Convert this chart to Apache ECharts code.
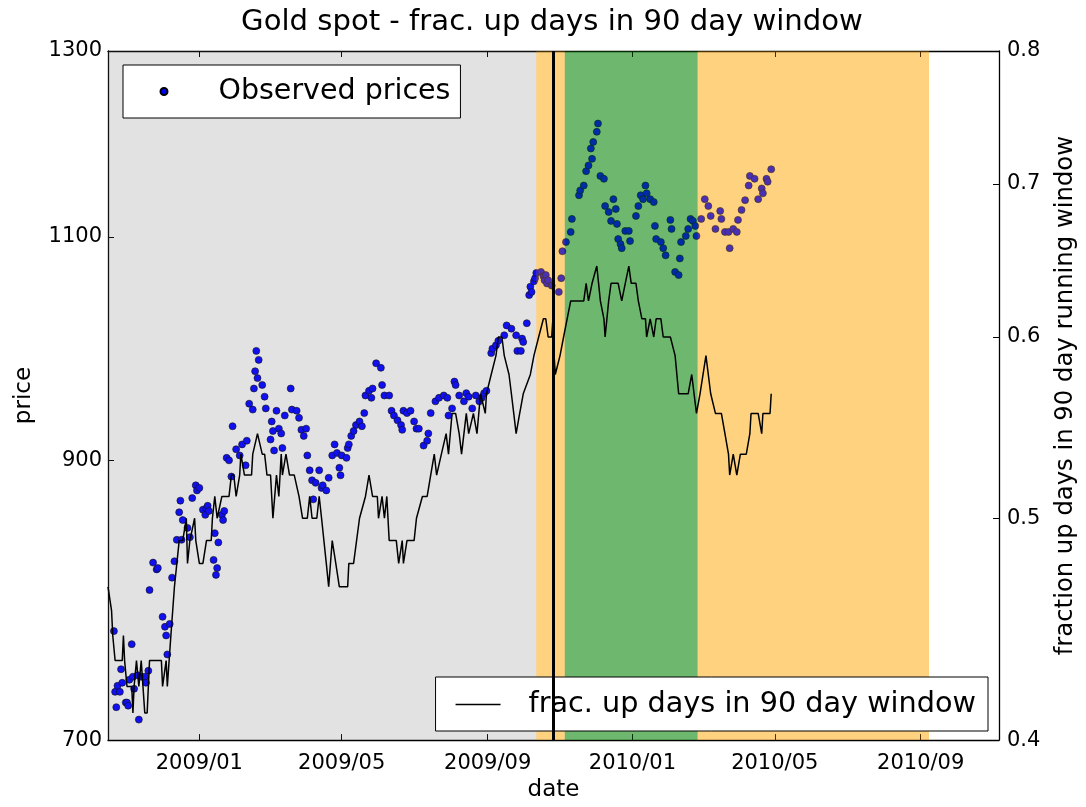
<!DOCTYPE html>
<html><head><meta charset="utf-8">
<script src="https://cdn.jsdelivr.net/npm/echarts@6/dist/echarts.min.js"></script>
<style>html,body{margin:0;padding:0;background:#fff}#c{width:1086px;height:807px}</style>
</head><body><div id="c"></div>
<script>
const priceDates = ['2008-10-21','2008-10-22','2008-10-23','2008-10-24','2008-10-26','2008-10-27','2008-10-28','2008-10-31','2008-11-01','2008-11-02','2008-11-03','2008-11-05','2008-11-06','2008-11-07','2008-11-10','2008-11-11','2008-11-13','2008-11-16','2008-11-17','2008-11-19','2008-11-20','2008-11-23','2008-11-26','2008-11-27','2008-12-01','2008-12-03','2008-12-04','2008-12-05','2008-12-07','2008-12-09','2008-12-11','2008-12-13','2008-12-15','2008-12-16','2008-12-17','2008-12-18','2008-12-22','2008-12-24','2008-12-26','2008-12-29','2008-12-30','2009-01-01','2009-01-04','2009-01-06','2009-01-07','2009-01-08','2009-01-09','2009-01-13','2009-01-14','2009-01-15','2009-01-16','2009-01-17','2009-01-20','2009-01-21','2009-01-22','2009-01-24','2009-01-26','2009-01-28','2009-01-29','2009-02-01','2009-02-04','2009-02-06','2009-02-09','2009-02-10','2009-02-12','2009-02-15','2009-02-16','2009-02-17','2009-02-18','2009-02-19','2009-02-20','2009-02-23','2009-02-25','2009-02-26','2009-03-02','2009-03-03','2009-03-04','2009-03-05','2009-03-07','2009-03-09','2009-03-11','2009-03-12','2009-03-14','2009-03-19','2009-03-20','2009-03-24','2009-03-26','2009-03-28','2009-03-30','2009-04-01','2009-04-02','2009-04-04','2009-04-06','2009-04-07','2009-04-09','2009-04-12','2009-04-14','2009-04-15','2009-04-18','2009-04-20','2009-04-23','2009-04-25','2009-04-27','2009-04-29','2009-04-30','2009-05-01','2009-05-05','2009-05-06','2009-05-07','2009-05-09','2009-05-11','2009-05-13','2009-05-16','2009-05-18','2009-05-20','2009-05-21','2009-05-24','2009-05-26','2009-05-27','2009-05-30','2009-06-03','2009-06-04','2009-06-06','2009-06-10','2009-06-12','2009-06-14','2009-06-17','2009-06-20','2009-06-21','2009-06-22','2009-06-25','2009-06-28','2009-07-01','2009-07-03','2009-07-05','2009-07-09','2009-07-12','2009-07-13','2009-07-15','2009-07-19','2009-07-22','2009-07-26','2009-07-29','2009-07-30','2009-08-02','2009-08-04','2009-08-05','2009-08-08','2009-08-12','2009-08-14','2009-08-16','2009-08-19','2009-08-22','2009-08-25','2009-08-27','2009-08-29','2009-08-31','2009-09-04','2009-09-05','2009-09-08','2009-09-10','2009-09-15','2009-09-17','2009-09-21','2009-09-25','2009-09-26','2009-09-29','2009-09-30','2009-10-01','2009-10-04','2009-10-06','2009-10-07','2009-10-08','2009-10-10','2009-10-11','2009-10-12','2009-10-16','2009-10-18','2009-10-19','2009-10-20','2009-10-21','2009-10-22','2009-10-25','2009-10-31','2009-11-02','2009-11-03','2009-11-06','2009-11-10','2009-11-11','2009-11-17','2009-11-18','2009-11-21','2009-11-23','2009-11-25','2009-11-27','2009-11-28','2009-11-29','2009-12-02','2009-12-03','2009-12-05','2009-12-08','2009-12-09','2009-12-12','2009-12-14','2009-12-16','2009-12-18','2009-12-19','2009-12-20','2009-12-22','2009-12-23','2009-12-26','2009-12-29','2009-12-30','2010-01-04','2010-01-06','2010-01-08','2010-01-10','2010-01-12','2010-01-13','2010-01-16','2010-01-19','2010-01-20','2010-01-21','2010-01-25','2010-01-27','2010-01-29','2010-02-02','2010-02-03','2010-02-06','2010-02-09','2010-02-10','2010-02-11','2010-02-15','2010-02-17','2010-02-19','2010-02-21','2010-02-23','2010-02-24','2010-02-28','2010-03-03','2010-03-06','2010-03-08','2010-03-12','2010-03-16','2010-03-17','2010-03-20','2010-03-23','2010-03-24','2010-03-27','2010-03-30','2010-03-31','2010-04-03','2010-04-06','2010-04-09','2010-04-10','2010-04-14','2010-04-17','2010-04-20','2010-04-21','2010-04-24','2010-04-25','2010-04-28'];
const priceValues = [772,731,721,735,731,746,737,724,724,722,739,763,741,733,742,713,741,741,737,745,801,821,816,817,782,775,769,756,777,810,822,838,859,868,838,853,847,840,870,880,876,878,861,857,862,864,860,823,843,812,817,836,857,853,860,902,900,887,928,909,904,913,896,916,947,942,960,975,993,969,985,963,953,943,917,932,924,908,941,926,922,910,937,960,942,941,935,925,920,926,904,892,884,869,882,892,878,880,876,886,904,913,906,894,888,904,902,910,913,920,924,929,932,928,939,954,958,952,960,982,978,963,954,954,941,937,933,929,925,941,939,941,932,926,926,912,916,922,939,949,952,954,952,937,943,966,963,954,949,956,953,943,954,949,952,956,958,991,995,998,1002,1007,1016,1013,1007,993,993,1004,1001,1018,1044,1052,1047,1057,1060,1065,1066,1062,1058,1063,1055,1058,1053,1047,1060,1086,1095,1105,1118,1142,1147,1152,1167,1173,1191,1180,1198,1209,1218,1162,1159,1131,1125,1116,1138,1128,1113,1098,1093,1089,1106,1106,1096,1121,1131,1142,1138,1152,1144,1138,1135,1111,1098,1095,1089,1082,1117,1108,1066,1063,1079,1095,1101,1108,1118,1116,1111,1101,1118,1138,1131,1121,1108,1126,1118,1105,1105,1089,1108,1105,1117,1127,1137,1152,1162,1159,1138,1149,1144,1159,1156,1169];

const fracDates = ['2008-10-16','2008-10-19','2008-10-20','2008-10-22','2008-10-28','2008-10-29','2008-10-30','2008-11-01','2008-11-05','2008-11-06','2008-11-07','2008-11-09','2008-11-11','2008-11-13','2008-11-16','2008-11-18','2008-11-20','2008-11-22','2008-11-30','2008-12-01','2008-12-04','2008-12-05','2008-12-08','2008-12-11','2008-12-15','2008-12-18','2008-12-21','2008-12-22','2008-12-24','2008-12-28','2008-12-29','2009-01-01','2009-01-04','2009-01-07','2009-01-11','2009-01-12','2009-01-14','2009-01-16','2009-01-20','2009-01-26','2009-01-28','2009-01-30','2009-02-01','2009-02-04','2009-02-05','2009-02-08','2009-02-14','2009-02-15','2009-02-19','2009-02-23','2009-02-25','2009-02-27','2009-03-02','2009-03-04','2009-03-07','2009-03-09','2009-03-11','2009-03-12','2009-03-15','2009-03-18','2009-03-22','2009-03-26','2009-03-29','2009-04-02','2009-04-04','2009-04-06','2009-04-10','2009-04-12','2009-04-14','2009-04-18','2009-04-20','2009-04-23','2009-04-26','2009-04-29','2009-05-06','2009-05-07','2009-05-11','2009-05-16','2009-05-21','2009-05-24','2009-05-27','2009-05-31','2009-06-01','2009-06-04','2009-06-06','2009-06-08','2009-06-10','2009-06-16','2009-06-18','2009-06-21','2009-06-22','2009-06-25','2009-07-01','2009-07-03','2009-07-08','2009-07-12','2009-07-15','2009-07-18','2009-07-20','2009-07-24','2009-07-28','2009-07-30','2009-08-02','2009-08-05','2009-08-08','2009-08-10','2009-08-14','2009-08-16','2009-08-20','2009-08-23','2009-08-26','2009-08-30','2009-08-31','2009-09-04','2009-09-08','2009-09-10','2009-09-13','2009-09-15','2009-09-19','2009-09-21','2009-09-23','2009-09-25','2009-09-26','2009-09-28','2009-10-01','2009-10-07','2009-10-10','2009-10-14','2009-10-18','2009-10-20','2009-10-22','2009-10-25','2009-10-26','2009-10-27','2009-10-28','2009-11-01','2009-11-04','2009-11-07','2009-11-10','2009-11-12','2009-11-21','2009-11-23','2009-11-25','2009-11-28','2009-12-02','2009-12-05','2009-12-08','2009-12-09','2009-12-12','2009-12-14','2009-12-18','2009-12-20','2009-12-23','2009-12-26','2009-12-29','2009-12-31','2010-01-04','2010-01-06','2010-01-09','2010-01-12','2010-01-13','2010-01-16','2010-01-19','2010-01-21','2010-01-25','2010-01-27','2010-02-02','2010-02-06','2010-02-09','2010-02-17','2010-02-20','2010-02-24','2010-02-27','2010-03-04','2010-03-08','2010-03-12','2010-03-17','2010-03-20','2010-03-23','2010-03-24','2010-03-27','2010-03-30','2010-04-02','2010-04-07','2010-04-10','2010-04-11','2010-04-17','2010-04-20','2010-04-21','2010-04-27','2010-04-28'];
const fracValues = [0.4667,0.4556,0.4444,0.4333,0.4333,0.4444,0.4333,0.4222,0.4222,0.4111,0.4222,0.4333,0.4222,0.4333,0.4111,0.4111,0.4333,0.4333,0.4333,0.4222,0.4333,0.4222,0.4444,0.4667,0.4889,0.4889,0.5,0.4778,0.4889,0.5,0.4889,0.4778,0.4778,0.4889,0.4889,0.5,0.5111,0.5,0.5111,0.5111,0.5222,0.5222,0.5111,0.5222,0.5333,0.5222,0.5222,0.5333,0.5444,0.5333,0.5333,0.5222,0.5222,0.5,0.5222,0.5111,0.5333,0.5222,0.5333,0.5222,0.5222,0.5111,0.5,0.5,0.5111,0.5,0.5,0.5111,0.5,0.4778,0.4667,0.4889,0.4778,0.4667,0.4667,0.4778,0.4778,0.5,0.5111,0.5222,0.5111,0.5111,0.5,0.5111,0.5,0.5111,0.4889,0.4889,0.4778,0.4889,0.4778,0.4889,0.4889,0.5,0.5111,0.5111,0.5222,0.5333,0.5222,0.5333,0.5444,0.5333,0.5556,0.5556,0.5444,0.5333,0.5556,0.5444,0.5556,0.5444,0.5667,0.5556,0.5667,0.5778,0.5889,0.6,0.6,0.5889,0.5778,0.5667,0.5556,0.5444,0.5444,0.5556,0.5667,0.5778,0.5889,0.6,0.6111,0.6111,0.6,0.6,0.6111,0.5889,0.5778,0.5889,0.6,0.6111,0.6222,0.6222,0.6222,0.6333,0.6222,0.6333,0.6444,0.6222,0.6111,0.6,0.6222,0.6333,0.6333,0.6333,0.6222,0.6333,0.6444,0.6333,0.6333,0.6222,0.6111,0.6111,0.6,0.6111,0.6,0.6111,0.6111,0.6,0.6,0.5889,0.5667,0.5667,0.5778,0.5556,0.5667,0.5889,0.5667,0.5556,0.5556,0.5444,0.5333,0.5222,0.5333,0.5222,0.5333,0.5333,0.5444,0.5556,0.5556,0.5444,0.5556,0.5556,0.5667];

const xTickDates = ['2009-01-01','2009-05-01','2009-09-01','2010-01-01','2010-05-01','2010-09-01'];
const xTickLabels = ['2009/01','2009/05','2009/09','2010/01','2010/05','2010/09'];
const priceTicks = [700, 900, 1100, 1300];
const fracTicks = [0.4, 0.5, 0.6, 0.7, 0.8];
const xRange = ['2008-10-16', '2010-11-06'];
const spanStarts = ['2008-10-16', '2009-10-12', '2009-11-05', '2010-02-25'];
const spanEnds   = ['2009-10-12', '2009-11-05', '2010-02-25', '2010-09-08'];
const spanKinds  = ['gray', 'orange', 'green', 'orange'];
const signalDate = '2009-10-26';

const FONT = 'DejaVu Sans';
// each span is painted on both axes (below and above the price dots)
const spanColor = {gray: 'rgba(128,128,128,0.12)', orange: 'rgba(255,165,0,0.29)', green: 'rgba(0,128,0,0.34)'};
const ts = d => +echarts.time.parse(d);

const chart = echarts.init(document.getElementById('c'), null, {renderer: 'canvas'});
const tickTs = xTickDates.map(ts);
function xLabel(v) {
  let best = 0, bd = Infinity;
  tickTs.forEach((t, i) => { const dd = Math.abs(t - v); if (dd < bd) { bd = dd; best = i; } });
  return xTickLabels[best];
}
const axisLineStyle = {color: '#000', width: 1.3};
const tickStyle = {color: '#000', width: 1};
const spanAreas = () => spanStarts.map((s, i) => [
  {xAxis: ts(s), itemStyle: {color: spanColor[spanKinds[i]], borderWidth: 0}},
  {xAxis: ts(spanEnds[i])}
]);

const option = {
  animation: false,
  backgroundColor: '#fff',
  textStyle: {fontFamily: FONT},
  title: {
    text: 'Gold spot - frac. up days in 90 day window',
    left: 547, textAlign: 'center', top: 3,
    textStyle: {fontFamily: FONT, fontSize: 29.1, fontWeight: 'normal', color: '#000'}
  },
  grid: {left: 108, right: 84, top: 51, bottom: 64, containLabel: false},
  legend: [
    {
      data: ['Observed prices'], left: 123, top: 65, selectedMode: false,
      backgroundColor: '#fff', borderColor: '#000', borderWidth: 1, borderRadius: 0,
      padding: [12, 10, 12, 36.5], itemWidth: 7, itemHeight: 7, icon: 'circle',
      formatter: n => '{t|' + n + '}',
      textStyle: {fontFamily: FONT, fontSize: 28.5, color: '#000',
        rich: {t: {fontFamily: FONT, fontSize: 28.5, color: '#000', lineHeight: 34, padding: [0, 0, 0, 46]}}}
    },
    {
      data: ['frac. up days in 90 day window'], right: 98, top: 677, selectedMode: false,
      backgroundColor: '#fff', borderColor: '#000', borderWidth: 1, borderRadius: 0,
      padding: [13, 12, 12, 20], itemWidth: 45, itemHeight: 1.6, icon: 'rect',
      formatter: n => '{t|' + n + '}',
      textStyle: {fontFamily: FONT, fontSize: 28.7, color: '#000',
        rich: {t: {fontFamily: FONT, fontSize: 28.7, color: '#000', lineHeight: 34, padding: [0, 0, 0, 23]}}}
    }
  ],
  xAxis: [
    {
      type: 'value', position: 'bottom', min: ts(xRange[0]), max: ts(xRange[1]),
      name: 'date', nameLocation: 'middle', nameGap: 34,
      nameTextStyle: {fontFamily: FONT, fontSize: 23, color: '#000'},
      axisLine: {show: true, onZero: false, lineStyle: axisLineStyle},
      axisTick: {show: true, inside: true, length: 6, lineStyle: tickStyle, customValues: tickTs},
      axisLabel: {show: true, customValues: tickTs, formatter: xLabel, margin: 13,
        fontFamily: FONT, fontSize: 21, color: '#000'},
      splitLine: {show: false}
    },
    {
      type: 'value', position: 'top', min: ts(xRange[0]), max: ts(xRange[1]),
      axisLine: {show: true, onZero: false, lineStyle: axisLineStyle},
      axisTick: {show: true, inside: true, length: 6, lineStyle: tickStyle, customValues: tickTs},
      axisLabel: {show: false, customValues: tickTs},
      splitLine: {show: false}
    }
  ],
  yAxis: [
    {
      type: 'log', logBase: 10, min: 700, max: 1300, position: 'left',
      name: 'price', nameLocation: 'middle', nameRotate: 90, nameGap: 72,
      nameTextStyle: {fontFamily: FONT, fontSize: 23, color: '#000'},
      axisLine: {show: true, onZero: false, lineStyle: axisLineStyle},
      axisTick: {show: true, inside: true, length: 6, lineStyle: tickStyle, customValues: priceTicks},
      axisLabel: {show: true, customValues: priceTicks, margin: 6, fontFamily: FONT, fontSize: 21, color: '#000',
        formatter: v => String(Math.round(v))},
      splitLine: {show: false}
    },
    {
      type: 'log', logBase: 10, min: 0.4, max: 0.8, position: 'right',
      name: 'fraction up days in 90 day running window', nameLocation: 'middle', nameRotate: 90, nameGap: 55,
      nameTextStyle: {fontFamily: FONT, fontSize: 24.3, color: '#000'},
      axisLine: {show: true, onZero: false, lineStyle: axisLineStyle},
      axisTick: {show: true, inside: true, length: 6, lineStyle: tickStyle, customValues: fracTicks},
      axisLabel: {show: true, customValues: fracTicks, margin: 8, fontFamily: FONT, fontSize: 21, color: '#000',
        formatter: v => (Math.round(v * 10) / 10).toFixed(1)},
      splitLine: {show: false}
    }
  ],
  series: [
    {
      name: 'regimes-under', type: 'line', xAxisIndex: 0, yAxisIndex: 0, z: 0, data: [],
      markArea: {silent: true, z: 0, data: spanAreas()}
    },
    {
      name: 'Observed prices', type: 'scatter', xAxisIndex: 0, yAxisIndex: 0, z: 1,
      symbol: 'circle', symbolSize: 7,
      itemStyle: {color: '#0000ff', borderColor: '#000', borderWidth: 0.6, opacity: 1},
      data: priceDates.map((d, i) => [ts(d), priceValues[i]])
    },
    {
      name: 'regimes-over', type: 'line', xAxisIndex: 0, yAxisIndex: 0, z: 2, data: [],
      markArea: {silent: true, z: 2, data: spanAreas()}
    },
    {
      name: 'frac. up days in 90 day window', type: 'line', xAxisIndex: 0, yAxisIndex: 1, z: 3,
      symbol: 'none', showSymbol: false,
      lineStyle: {color: '#000', width: 1.5}, itemStyle: {color: '#000'},
      data: fracDates.map((d, i) => [ts(d), fracValues[i]]),
      markLine: {
        silent: true, z: 4, symbol: ['none', 'none'], label: {show: false},
        lineStyle: {color: '#000', width: 3, type: 'solid'},
        data: [{xAxis: ts(signalDate)}]
      }
    }
  ]
};
chart.setOption(option);
</script></body></html>
